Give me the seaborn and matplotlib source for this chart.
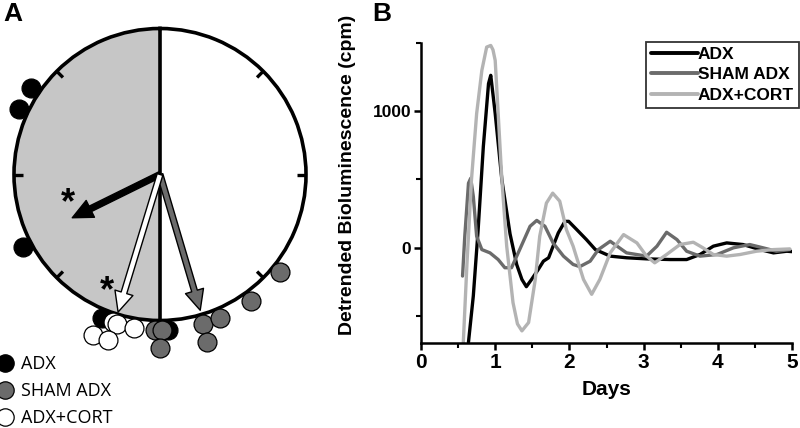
import numpy as np
import pandas as pd
import matplotlib
matplotlib.use("Agg")
import matplotlib.pyplot as plt
import seaborn as sns
from matplotlib.lines import Line2D
from matplotlib.ticker import MultipleLocator

# ---- panel A: peak phase of each animal (hours, 24 h clock)
# ring 0 = dot sits on the circle, ring 1 = stacked one dot further out
adx_phase = [20.26, 19.66, 16.13, 13.47, 11.81]
adx_ring = [0, 0, 0, 0, 0]
cort_phase = [13.18, 13.08, 12.64, 13.51, 13.15]
cort_ring = [0, 0, 0, 1, 1]
sham_phase = [12.12, 11.95, 12.0, 10.92, 10.48, 10.95, 9.62, 8.61]
sham_ring = [0, 0, 1, 0, 0, 1, 0, 0]

# mean vectors (phase in h, length as fraction of the radius)
vec_groups = ["ADX", "SHAM ADX", "ADX+CORT"]
vec_phase = [16.25, 10.9, 13.13]
vec_length = [0.67, 0.97, 0.985]

# clock tick marks (h)
clock_ticks = [3, 6, 9, 15, 18, 21]

# ---- panel B: detrended bioluminescence traces
adx_days = [0.64, 0.705, 0.77, 0.84, 0.91, 0.94, 1.0, 1.09, 1.2, 1.29, 1.36, 1.42,
            1.49, 1.58, 1.65, 1.72, 1.78, 1.85, 1.94, 1.99, 2.1, 2.23, 2.35, 2.55,
            2.77, 3.04, 3.36, 3.58, 3.76, 3.94, 4.12, 4.34, 4.57, 4.75, 4.93, 5.0]
adx_vals = [-693, -355, 131, 740, 1202, 1263, 983, 496, 100, -125, -234, -287,
            -234, -161, -100, -75, 10, 107, 192, 192, 131, 58, -15, -63,
            -75, -83, -88, -88, -51, 10, 34, 22, -15, -39, -27, -30]
sham_days = [0.56, 0.59, 0.64, 0.67, 0.705, 0.75, 0.82, 0.93, 1.04, 1.13, 1.22, 1.33,
             1.47, 1.56, 1.67, 1.78, 1.92, 2.05, 2.14, 2.28, 2.39, 2.55, 2.77, 3.04,
             3.18, 3.31, 3.45, 3.58, 3.76, 3.99, 4.21, 4.43, 4.61, 4.79, 4.97]
sham_vals = [-209, 83, 472, 508, 375, 83, -15, -39, -88, -148, -148, -15,
             156, 199, 156, 34, -63, -124, -140, -100, -15, 46, -39, -63,
             10, 112, 58, -27, -63, -51, -2, 22, -2, -27, -15]
cort_days = [0.57, 0.62, 0.68, 0.75, 0.82, 0.885, 0.94, 0.97, 1.0, 1.04, 1.09, 1.155,
             1.24, 1.3, 1.36, 1.45, 1.54, 1.6, 1.69, 1.775, 1.87, 1.96, 2.05, 2.19,
             2.3, 2.41, 2.55, 2.73, 2.91, 3.04, 3.15, 3.31, 3.49, 3.67, 3.8, 3.94,
             4.12, 4.3, 4.52, 4.75, 4.97]
cort_vals = [-696, -112, 496, 983, 1299, 1470, 1482, 1450, 1372, 983, 496, 10,
             -404, -560, -611, -550, -234, 83, 326, 399, 340, 131, 10, -234,
             -343, -234, -39, 95, 34, -63, -112, -51, 22, 39, -2, -51,
             -63, -51, -27, -15, -10]

groups = ["ADX", "SHAM ADX", "ADX+CORT"]
colors = {"ADX": "#000000", "SHAM ADX": "#6b6b6b", "ADX+CORT": "#b3b3b3"}
dot_colors = {"ADX": "#000000", "SHAM ADX": "#6b6b6b", "ADX+CORT": "#ffffff"}

sns.set_style("ticks")
plt.rcParams["font.family"] = ["Liberation Sans", "DejaVu Sans"]
plt.rcParams["text.color"] = "black"
plt.rcParams["axes.edgecolor"] = "black"
plt.rcParams["axes.labelcolor"] = "black"
plt.rcParams["xtick.color"] = "black"
plt.rcParams["ytick.color"] = "black"

fig = plt.figure(figsize=(8, 4.28), dpi=100)

# ================= panel A (clock face) =================
ax_a = fig.add_axes([14 / 800, (428 - 174.5 - 146) / 428, 292 / 800, 292 / 428],
                    projection="polar")
ax_a.set_theta_zero_location("N")
ax_a.set_theta_direction(-1)
ax_a.set_ylim(0, 1)
ax_a.grid(False)
ax_a.set_yticks([])
ax_a.set_xticks([])
ax_a.spines["polar"].set_linewidth(2.6)
ax_a.spines["polar"].set_edgecolor("black")
ax_a.set_facecolor("white")

# dark half (12-24 h) shaded
th = np.linspace(np.pi, 2 * np.pi, 200)
ax_a.fill_between(th, 0, 1, color="#c6c6c6", zorder=1)
ax_a.plot([0, 0], [0, 1], color="black", lw=2.6, zorder=2)
ax_a.plot([np.pi, np.pi], [0, 1], color="black", lw=2.6, zorder=2)
for h in clock_ticks:
    t = h / 24 * 2 * np.pi
    ax_a.plot([t, t], [0.94, 1.0], color="black", lw=2.4, zorder=2,
              solid_capstyle="butt")

ring_r = [1.063, 1.19]
dots = []
for g, ph, rg in [("ADX", adx_phase, adx_ring),
                  ("ADX+CORT", cort_phase, cort_ring),
                  ("SHAM ADX", sham_phase, sham_ring)]:
    for p, r in zip(ph, rg):
        dots.append({"theta": p / 24 * 2 * np.pi, "r": ring_r[r], "group": g})
df_dots = pd.DataFrame(dots)
for g in ["ADX", "ADX+CORT", "SHAM ADX"]:
    sub = df_dots[df_dots["group"] == g]
    sns.scatterplot(x=sub["theta"], y=sub["r"], ax=ax_a, color=dot_colors[g],
                    edgecolor="black", linewidth=0.9, s=185, clip_on=False,
                    zorder=5, legend=False)
ax_a.set_xlabel("")
ax_a.set_ylabel("")

# mean vectors
for g, ph, ln in zip(vec_groups, vec_phase, vec_length):
    fc = dot_colors[g]
    ax_a.annotate("", xy=(ph / 24 * 2 * np.pi, ln), xytext=(0, 0),
                  arrowprops=dict(width=4.2, headwidth=13.5, headlength=14.5,
                                  facecolor=fc, edgecolor="black", linewidth=1.0,
                                  shrink=0),
                  zorder=4)

# significance stars
ax_a.text(16.81 / 24 * 2 * np.pi, 0.66, "*", fontsize=26, fontweight="bold",
          ha="center", va="center", zorder=6)
ax_a.text(13.63 / 24 * 2 * np.pi, 0.88, "*", fontsize=26, fontweight="bold",
          ha="center", va="center", zorder=6)

handles_a = [Line2D([], [], ls="", marker="o", markersize=12.5,
                    markerfacecolor=dot_colors[g], markeredgecolor="black",
                    markeredgewidth=0.9) for g in groups]
leg_a = fig.legend(handles_a, groups, loc="upper left",
                   bbox_to_anchor=(0.0, 1 - 355 / 428), frameon=False,
                   handlelength=0.6, handletextpad=0.55, labelspacing=0.5,
                   borderpad=0, borderaxespad=0,
                   prop={"family": ["Open Sans", "DejaVu Sans"], "size": 13,
                         "weight": "medium"})

# ================= panel B (traces) =================
ax_b = fig.add_axes([421 / 800, 1 - 343 / 428, 371 / 800, 300 / 428])
df_b = pd.concat([
    pd.DataFrame({"day": adx_days, "value": adx_vals, "group": "ADX"}),
    pd.DataFrame({"day": sham_days, "value": sham_vals, "group": "SHAM ADX"}),
    pd.DataFrame({"day": cort_days, "value": cort_vals, "group": "ADX+CORT"}),
], ignore_index=True)
sns.lineplot(data=df_b, x="day", y="value", hue="group", hue_order=groups,
             palette=colors, estimator=None, sort=False, linewidth=2.4,
             legend=False, ax=ax_b)
ax_b.set_xlim(0, 5)
ax_b.set_ylim(-700, 1500)
ax_b.set_xticks([0, 1, 2, 3, 4, 5])
ax_b.set_yticks([0, 1000])
ax_b.xaxis.set_minor_locator(MultipleLocator(0.5))
ax_b.yaxis.set_minor_locator(MultipleLocator(500))
for side in ["top", "right"]:
    ax_b.spines[side].set_visible(False)
for side in ["left", "bottom"]:
    ax_b.spines[side].set_linewidth(1.8)
ax_b.tick_params(axis="both", which="major", direction="out", length=5, width=1.8)
ax_b.tick_params(axis="both", which="minor", direction="out", length=3.5, width=1.5)
ax_b.tick_params(axis="x", labelsize=15, pad=2)
ax_b.tick_params(axis="y", labelsize=12.5, pad=2)
for lab in ax_b.get_xticklabels() + ax_b.get_yticklabels():
    lab.set_fontweight("bold")
ax_b.set_xlabel("Days", fontsize=15, fontweight="bold", labelpad=6)
ax_b.set_ylabel("Detrended Bioluminescence (cpm)", fontsize=14,
                fontweight="bold")
ax_b.yaxis.set_label_coords(-0.175, 0.56)

handles_b = [Line2D([], [], color=colors[g], lw=2.8) for g in groups]
leg_b = fig.legend(handles_b, groups, loc="upper right",
                   bbox_to_anchor=(799 / 800, 1 - 41.5 / 428), frameon=True,
                   fancybox=False, handlelength=2.7, handletextpad=0.0,
                   labelspacing=0.3, borderpad=0.3, borderaxespad=0,
                   prop={"weight": "bold", "size": 12.5})
leg_b.get_frame().set_edgecolor("black")
leg_b.get_frame().set_linewidth(1.3)

fig.text(3 / 800, 1 - 2 / 428, "A", fontsize=19, fontweight="bold", va="top")
fig.text(372 / 800, 1 - 2 / 428, "B", fontsize=19, fontweight="bold", va="top")

fig.savefig("out.png", dpi=100)
